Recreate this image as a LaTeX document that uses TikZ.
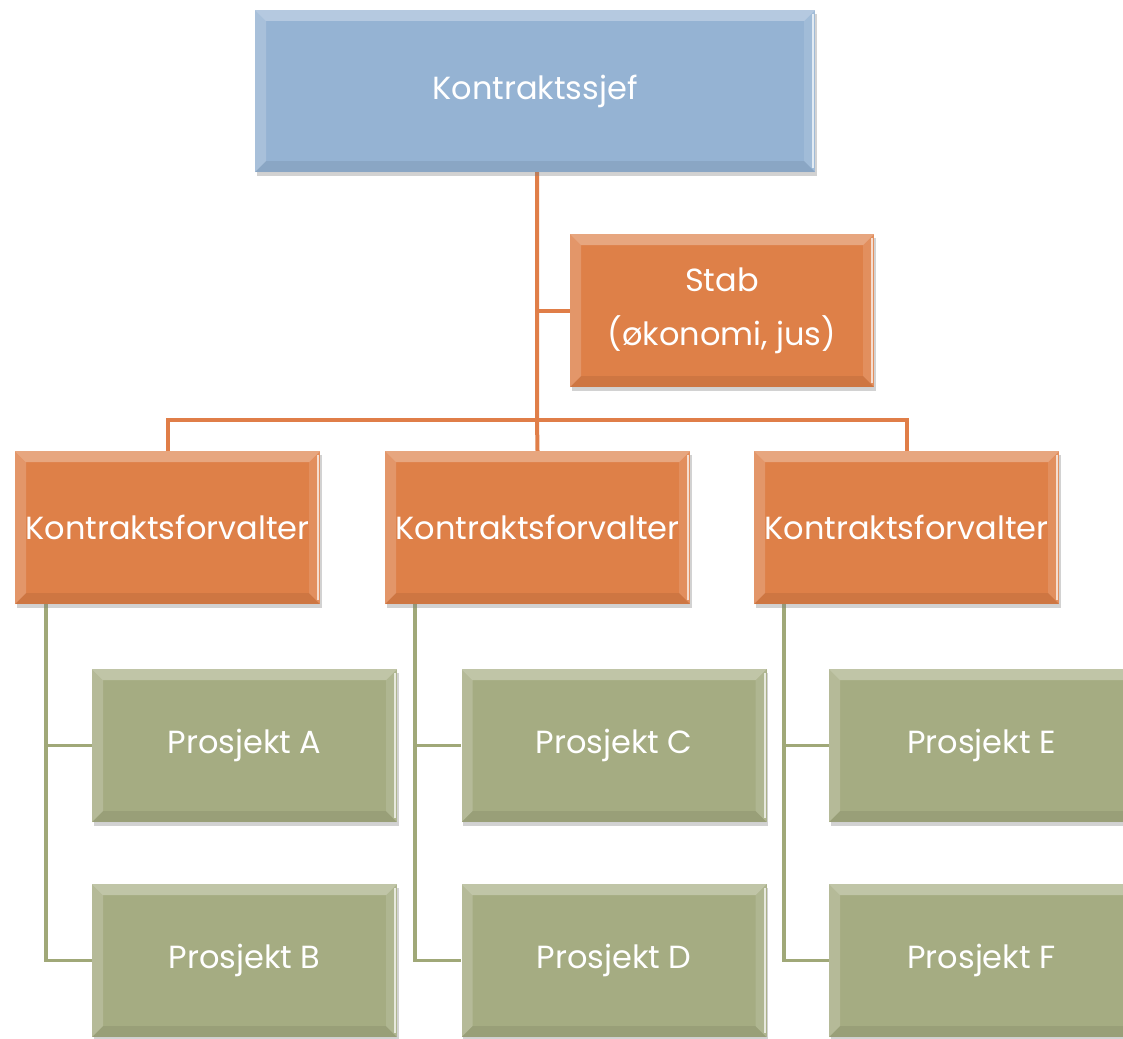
\documentclass[tikz,border=0pt]{standalone}
\usepackage{fontspec}
\setmainfont{Poppins}
\usetikzlibrary{shadows,backgrounds}
\definecolor{cblue}{RGB}{149,179,211}
\definecolor{corange}{RGB}{222,128,72}
\definecolor{cgreen}{RGB}{165,172,130}
\definecolor{olinec}{RGB}{224,126,72}
\definecolor{glinec}{RGB}{160,168,120}
\tikzset{
  bevel/.style={path picture={
    \path (path picture bounding box.north west) coordinate (bnw)
          (path picture bounding box.north east) coordinate (bne)
          (path picture bounding box.south west) coordinate (bsw)
          (path picture bounding box.south east) coordinate (bse);
    \fill[white,opacity=0.30] (bnw) -- (bne) -- ([shift={(-11pt,-11pt)}]bne) -- ([shift={(11pt,-11pt)}]bnw) -- cycle;
    \fill[white,opacity=0.18] (bnw) -- ([shift={(11pt,-11pt)}]bnw) -- ([shift={(11pt,11pt)}]bsw) -- (bsw) -- cycle;
    \fill[black,opacity=0.07] (bsw) -- ([shift={(11pt,11pt)}]bsw) -- ([shift={(-11pt,11pt)}]bse) -- (bse) -- cycle;
    \fill[white,opacity=0.12] (bne) -- (bse) -- ([shift={(-11pt,11pt)}]bse) -- ([shift={(-11pt,-11pt)}]bne) -- cycle;
    \draw[white,opacity=0.7,line width=2pt] ([shift={(-2pt,-4pt)}]bne) -- ([shift={(-2pt,4pt)}]bse);
  }},
  box/.style={rectangle, inner sep=0pt, text=white, align=center,
    font=\fontsize{32}{54}\selectfont, bevel,
    drop shadow={shadow xshift=1.5pt, shadow yshift=-4pt, opacity=0.35}},
  topbox/.style={box, fill=cblue, minimum width=560pt, minimum height=162pt},
  obox/.style={box, fill=corange, minimum width=305pt, minimum height=153pt},
  gbox/.style={box, fill=cgreen, minimum width=305pt, minimum height=153pt},
  oline/.style={draw=olinec, line width=4pt},
  gline/.style={draw=glinec, line width=3.5pt},
}
\begin{document}
\begin{tikzpicture}[x=1pt,y=-1pt]
\useasboundingbox (0,0) rectangle (1123,1038);
\clip (0,0) rectangle (1123,1038);

\node[topbox] (top) at (535,91) {Kontraktssjef};
\node[obox, minimum width=304pt] (stab) at (722,310.5) {Stab\\(økonomi, jus)};

\node[obox] (kf1) at (167.5,527.5) {Kontraktsforvalter};
\node[obox] (kf2) at (537.5,527.5) {Kontraktsforvalter};
\node[obox] (kf3) at (906.5,527.5) {Kontraktsforvalter};

\node[gbox] (pa) at (244.5,745.5) {Prosjekt A};
\node[gbox] (pb) at (244.5,960.5) {Prosjekt B};
\node[gbox] (pc) at (614,745.5) {Prosjekt C};
\node[gbox] (pd) at (614,960.5) {Prosjekt D};
\node[gbox] (pe) at (981.5,745.5) {Prosjekt E};
\node[gbox] (pf) at (981.5,960.5) {Prosjekt F};

\coordinate (trunk) at (537,172);
\coordinate (bus) at (537,420);
\coordinate (g1) at (46,604);
\coordinate (g2) at (415,604);
\coordinate (g3) at (784,604);

\begin{scope}[on background layer]
  \fill[white] (0,0) rectangle (1123,1038);
  \draw[oline] (trunk) -- (bus) -- (kf2.north);
  \draw[oline] (trunk) |- (stab.west);
  \draw[oline] (kf1.north) |- (bus) -| (kf3.north);
  \draw[gline] (g1) |- (pa.west);
  \draw[gline] (g1) |- (pb.west);
  \draw[gline] (g2) |- (pc.west);
  \draw[gline] (g2) |- (pd.west);
  \draw[gline] (g3) |- (pe.west);
  \draw[gline] (g3) |- (pf.west);
\end{scope}
\end{tikzpicture}
\end{document}
